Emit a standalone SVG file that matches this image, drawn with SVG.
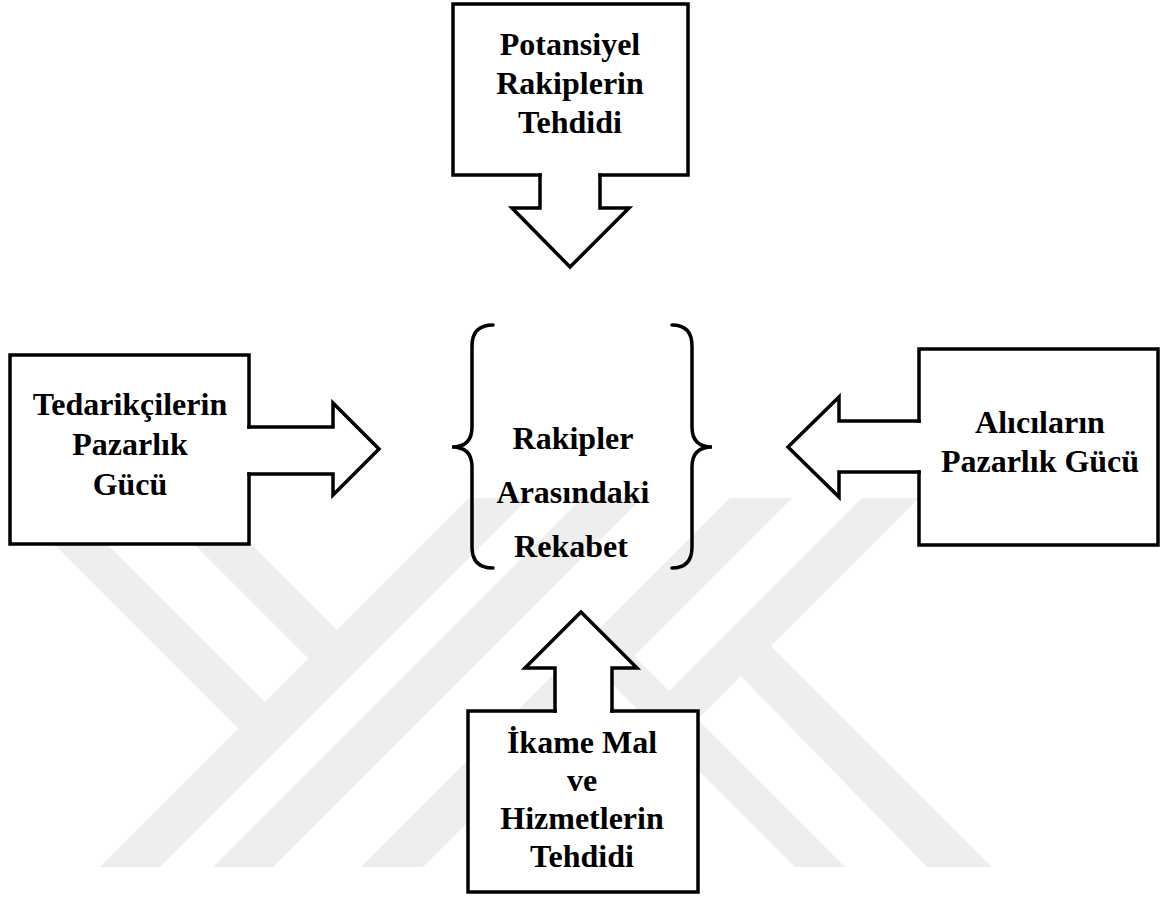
<svg xmlns="http://www.w3.org/2000/svg" width="1168" height="904" viewBox="0 0 1168 904">
  <style>
    .box { fill: #ffffff; stroke: #000000; stroke-width: 3.5; }
    .arrow-fill { fill: #ffffff; stroke: none; }
    .arrow-line { fill: none; stroke: #000000; stroke-width: 3.5; stroke-linejoin: miter; }
    .brace { fill: none; stroke: #000000; stroke-width: 3.5; stroke-linecap: round; }
    .label { font-family: "Liberation Serif", "Times New Roman", serif; font-weight: bold; font-size: 32px; fill: #000000; text-anchor: middle; }
    .mark { fill: #eeeeee; }
  </style>
  <defs>
    <clipPath id="markClip">
      <rect x="0" y="498" width="1168" height="369"/>
    </clipPath>
  </defs>

  <rect x="0" y="0" width="1168" height="904" fill="#ffffff"/>

  <!-- faint striped emblem in the background -->
  <g id="background" clip-path="url(#markClip)">
    <polygon class="mark" points="469,498 529,498 160,867 100,867"/>
    <polygon class="mark" points="582,498 642,498 273,867 213,867"/>
    <polygon class="mark" points="730,498 792,498 423,867 361,867"/>
    <polygon class="mark" points="862,498 919,498 550,867 493,867"/>
    <polygon class="mark" points="8,498 61,498 281.5,718.5 255,745"/>
    <polygon class="mark" points="148,498 205,498 353.5,646.5 325,675"/>
    <polygon class="mark" points="594,666 619,641 845,867 795,867"/>
    <polygon class="mark" points="727.5,662.5 757.5,632.5 992,867 927,867"/>
  </g>

  <!-- forces -->
  <g id="node-potansiyel">
    <rect class="box" x="453" y="4" width="235" height="171"/>
    <text class="label" x="570" y="55">Potansiyel</text>
    <text class="label" x="570" y="94">Rakiplerin</text>
    <text class="label" x="570" y="133">Tehdidi</text>
  </g>

  <g id="node-tedarikci">
    <rect class="box" x="10" y="355" width="239" height="189"/>
    <text class="label" x="130" y="415">Tedarikçilerin</text>
    <text class="label" x="130" y="455">Pazarlık</text>
    <text class="label" x="130" y="495">Gücü</text>
  </g>

  <g id="node-alici">
    <rect class="box" x="919" y="349" width="239" height="196"/>
    <text class="label" x="1040" y="433">Alıcıların</text>
    <text class="label" x="1040" y="472">Pazarlık Gücü</text>
  </g>

  <g id="node-ikame">
    <rect class="box" x="468" y="711" width="230" height="181"/>
    <text class="label" x="582" y="753">İkame Mal</text>
    <text class="label" x="582" y="791">ve</text>
    <text class="label" x="582" y="829">Hizmetlerin</text>
    <text class="label" x="582" y="867">Tehdidi</text>
  </g>

  <g id="node-rekabet">
    <path class="brace" d="M493,325 Q472,325 472,346 V427 Q472,447 452,447 Q472,447 472,467 V547 Q472,568 493,568"/>
    <path class="brace" d="M672,325 Q692,325 692,346 V427 Q692,447 712,447 Q692,447 692,467 V547 Q692,568 672,568"/>
    <text class="label" x="573" y="449">Rakipler</text>
    <text class="label" x="573" y="503">Arasındaki</text>
    <text class="label" x="571" y="557">Rekabet</text>
  </g>

  <!-- block arrows pointing at the centre; the white fill opens the box edge where the shaft leaves it -->
  <g id="connectors">
    <g id="arrow-top">
      <path class="arrow-fill" d="M541.75,170 V208 H512 L570,267 L629,208 H598.25 V170 Z"/>
      <path class="arrow-line" d="M540,173.25 V208 H512 L570,267 L629,208 H600 V173.25"/>
    </g>
    <g id="arrow-left">
      <path class="arrow-fill" d="M244,428.75 H333 V403 L379,449 L333,495 V472.25 H244 Z"/>
      <path class="arrow-line" d="M247.25,427 H333 V403 L379,449 L333,495 V474 H247.25"/>
    </g>
    <g id="arrow-right">
      <path class="arrow-fill" d="M924,422.75 H839 V397 L788,447 L839,497 V470.25 H924 Z"/>
      <path class="arrow-line" d="M920.75,421 H839 V397 L788,447 L839,497 V472 H920.75"/>
    </g>
    <g id="arrow-bottom">
      <path class="arrow-fill" d="M556.75,716 V668 H525 L581,612 L637,668 H610.25 V716 Z"/>
      <path class="arrow-line" d="M555,712.75 V668 H525 L581,612 L637,668 H612 V712.75"/>
    </g>
  </g>
</svg>
